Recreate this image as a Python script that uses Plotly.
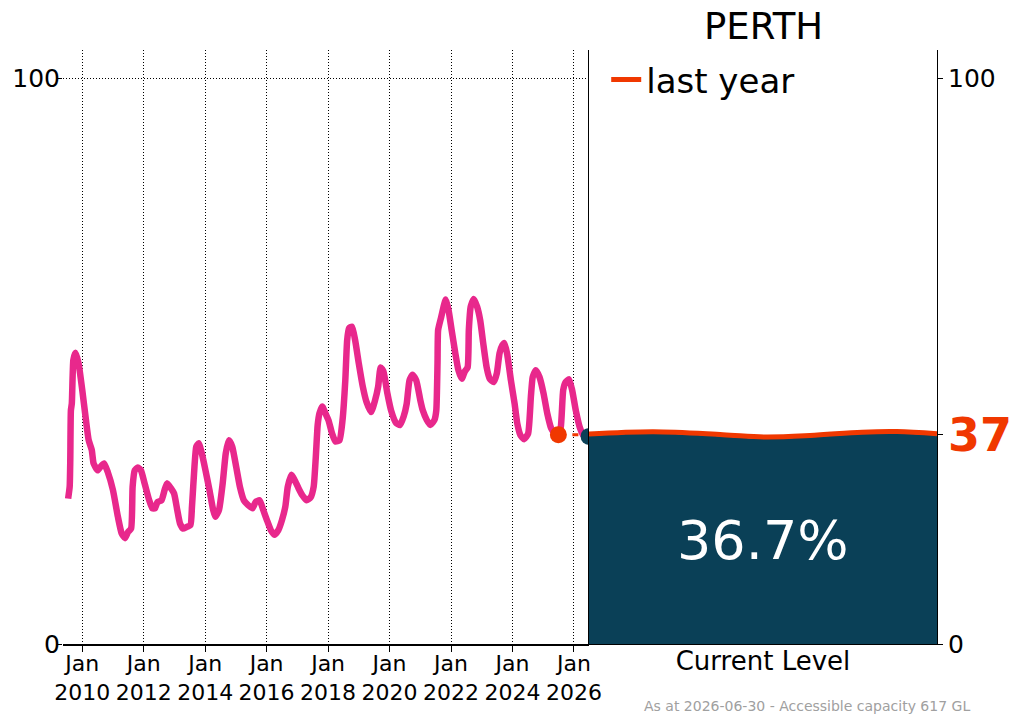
import pandas as pd
import plotly.graph_objects as go

# storage level (% of accessible capacity)
years = [
    2009.54, 2009.59, 2009.61, 2009.63, 2009.66, 2009.71, 2009.78, 2009.88, 2010.00, 2010.12,
    2010.21, 2010.31, 2010.37, 2010.50, 2010.59, 2010.71, 2010.83, 2011.00, 2011.16, 2011.28,
    2011.39, 2011.49, 2011.59, 2011.64, 2011.71, 2011.81, 2011.91, 2012.03, 2012.18, 2012.28,
    2012.37, 2012.45, 2012.58, 2012.68, 2012.76, 2012.89, 2012.99, 2013.09, 2013.18, 2013.28,
    2013.40, 2013.52, 2013.57, 2013.65, 2013.71, 2013.79, 2013.89, 2014.01, 2014.14, 2014.26,
    2014.33, 2014.45, 2014.57, 2014.67, 2014.77, 2014.88, 2015.01, 2015.13, 2015.26, 2015.39,
    2015.54, 2015.64, 2015.77, 2015.89, 2016.01, 2016.14, 2016.25, 2016.38, 2016.50, 2016.61,
    2016.69, 2016.81, 2016.91, 2017.04, 2017.16, 2017.30, 2017.43, 2017.53, 2017.60, 2017.66,
    2017.72, 2017.81, 2017.91, 2018.01, 2018.13, 2018.24, 2018.37, 2018.47, 2018.56, 2018.62,
    2018.68, 2018.78, 2018.88, 2019.00, 2019.13, 2019.25, 2019.40, 2019.53, 2019.63, 2019.71,
    2019.80, 2019.93, 2020.05, 2020.21, 2020.34, 2020.46, 2020.56, 2020.65, 2020.75, 2020.87,
    2021.00, 2021.08, 2021.21, 2021.33, 2021.46, 2021.52, 2021.56, 2021.58, 2021.68, 2021.77,
    2021.83, 2021.92, 2022.02, 2022.14, 2022.24, 2022.35, 2022.45, 2022.54, 2022.58, 2022.64,
    2022.74, 2022.85, 2022.95, 2023.05, 2023.16, 2023.26, 2023.39, 2023.49, 2023.58, 2023.67,
    2023.74, 2023.83, 2023.95, 2024.07, 2024.16, 2024.26, 2024.38, 2024.51, 2024.60, 2024.66,
    2024.76, 2024.88, 2025.01, 2025.13, 2025.26, 2025.41, 2025.48, 2025.57, 2025.65, 2025.73,
    2025.84, 2025.94, 2026.06, 2026.19, 2026.31, 2026.49,
]
levels = [
    25.7, 27.8, 32.5, 41.3, 42.5, 50.2, 51.5, 49.6, 44.9, 39.6,
    36.0, 34.3, 31.9, 30.7, 31.3, 31.9, 30.4, 27.2, 22.5, 19.6,
    18.7, 19.8, 20.4, 27.8, 30.7, 31.2, 30.7, 28.4, 25.4, 24.0,
    24.0, 25.1, 25.4, 27.2, 28.4, 27.5, 26.6, 23.7, 21.3, 20.4,
    20.7, 21.0, 24.3, 31.3, 34.9, 35.5, 33.7, 30.7, 27.2, 23.7,
    22.5, 23.7, 28.4, 33.7, 36.0, 34.9, 31.3, 27.8, 25.4, 24.6,
    24.0, 25.1, 25.4, 23.7, 21.9, 20.1, 19.3, 20.1, 21.9, 24.3,
    27.8, 29.9, 29.0, 27.5, 26.3, 25.4, 25.9, 27.8, 33.1, 38.7,
    40.8, 42.0, 40.8, 39.6, 37.2, 35.8, 36.0, 39.6, 46.6, 53.7,
    55.8, 56.1, 53.7, 49.6, 45.5, 42.8, 41.0, 43.1, 45.5, 48.9,
    48.2, 44.3, 41.3, 39.1, 38.7, 40.2, 42.5, 46.6, 47.6, 46.6,
    43.1, 41.3, 39.6, 38.7, 39.6, 41.3, 49.6, 55.5, 57.8, 59.9,
    60.9, 59.0, 55.5, 51.4, 48.4, 46.9, 48.2, 48.9, 55.5, 59.6,
    61.0, 59.6, 57.2, 53.1, 48.9, 46.9, 46.3, 47.8, 51.4, 52.8,
    53.2, 51.2, 46.6, 42.5, 38.9, 36.9, 36.2, 37.2, 43.7, 47.2,
    48.4, 47.2, 44.3, 40.8, 38.1, 36.9, 37.0, 38.3, 44.9, 46.3,
    46.8, 44.9, 41.3, 38.3, 36.9, 36.7,
]

current_date = "2026-06-30"
current_level = 36.7
last_year_date = "2025-06-30"
last_year_level = 37.0

# wavy water surface in the tank (x as fraction of tank width, offset in %)
tank_x = [0.0, 0.185, 0.385, 0.505, 0.635, 0.785, 0.885, 1.0]
wave = [0.1, 0.5, 0.0, -0.4, -0.15, 0.45, 0.55, 0.15]

tick_years = [2010, 2012, 2014, 2016, 2018, 2020, 2022, 2024, 2026]

PINK = "#e8288c"
ORANGE = "#f03800"
TEAL = "#0a4057"
FONT = "DejaVu Sans"


def to_date(y):
    yr = int(y)
    return pd.Timestamp(year=yr, month=1, day=1) + pd.Timedelta(days=(y - yr) * 365.25)


dates = [to_date(y) for y in years]

fig = go.Figure()

fig.add_trace(go.Scatter(
    x=dates, y=levels, mode="lines",
    line=dict(color=PINK, width=6.5, shape="spline", smoothing=0.5),
    showlegend=False, xaxis="x", yaxis="y",
))
fig.add_trace(go.Scatter(
    x=[last_year_date, current_date], y=[last_year_level, last_year_level], mode="lines",
    line=dict(color=ORANGE, width=3, dash="6px,8px"), showlegend=False, xaxis="x", yaxis="y",
))
fig.add_trace(go.Scatter(
    x=[last_year_date], y=[last_year_level], mode="markers",
    marker=dict(color=ORANGE, size=17), showlegend=False, xaxis="x", yaxis="y",
))
fig.add_trace(go.Scatter(
    x=[current_date], y=[current_level], mode="markers",
    marker=dict(color=TEAL, size=17), showlegend=False, xaxis="x", yaxis="y",
))

# tank
fig.add_trace(go.Scatter(
    x=tank_x, y=[current_level + w for w in wave], mode="lines",
    line=dict(color=TEAL, width=0, shape="spline"), fill="tozeroy", fillcolor=TEAL,
    showlegend=False, xaxis="x2", yaxis="y2",
))
fig.add_trace(go.Scatter(
    x=tank_x, y=[last_year_level + w for w in wave], mode="lines",
    line=dict(color=ORANGE, width=5, shape="spline"), name="last year",
    xaxis="x2", yaxis="y2",
))

x_left = 63 / 1024
x_mid = 589 / 1024
x_right = 937 / 1024
y_dom = [(725 - 644) / 725, (725 - 50) / 725]
grid_dash = "1px,2px"

fig.update_layout(
    template="none",
    width=1024, height=725,
    margin=dict(l=0, r=0, t=0, b=0, pad=0),
    paper_bgcolor="white", plot_bgcolor="white",
    font=dict(family=FONT, color="black"),
    xaxis=dict(
        domain=[x_left, x_mid], range=[to_date(2009.373), to_date(2026.49)],
        tickvals=[f"{y}-01-01" for y in tick_years],
        ticktext=[f"Jan<br>{y}" for y in tick_years],
        tickfont=dict(size=22), ticks="outside", ticklen=6, tickcolor="black",
        ticklabelstandoff=-7,
        showline=True, linecolor="black", linewidth=1.5, automargin=False,
        showgrid=True, gridcolor="black", griddash=grid_dash, gridwidth=1, zeroline=False,
    ),
    yaxis=dict(
        domain=y_dom, range=[0, 105], tickvals=[0, 100], tickfont=dict(size=25),
        ticks="outside", ticklen=5, tickcolor="black", showline=False, automargin=False,
        ticklabelstandoff=-8,
        showgrid=True, gridcolor="black", griddash=grid_dash, gridwidth=1, zeroline=False,
    ),
    xaxis2=dict(
        domain=[x_mid, x_right], range=[0, 1], anchor="y2",
        tickvals=[0.5], ticktext=["Current Level"], tickfont=dict(size=26), ticks="",
        ticklabelstandoff=-6,
        showline=True, linecolor="black", linewidth=1, showgrid=False, zeroline=False,
        automargin=False,
    ),
    yaxis2=dict(
        domain=y_dom, range=[0, 105], anchor="x2", side="right",
        tickvals=[0, last_year_level, 100], ticktext=["0", "", "100"], tickfont=dict(size=25),
        ticks="outside", ticklen=5, tickcolor="black",
        showline=True, mirror=True, linecolor="black", linewidth=1,
        showgrid=False, zeroline=False, automargin=False,
    ),
    legend=dict(
        x=0.592, y=1 - 80 / 725, xanchor="left", yanchor="middle",
        font=dict(size=34), bgcolor="rgba(0,0,0,0)", borderwidth=0,
    ),
    annotations=[
        dict(text="PERTH", xref="paper", yref="paper", x=(x_mid + x_right) / 2, y=1 - 27 / 725,
             showarrow=False, font=dict(size=37), xanchor="center", yanchor="middle"),
        dict(text=f"{current_level}%", xref="x2", yref="y2", x=0.5, y=current_level / 2,
             showarrow=False, font=dict(size=54, color="white")),
        dict(text=f"<b>{round(last_year_level)}</b>", xref="paper", yref="y2", x=946 / 1024,
             y=last_year_level, showarrow=False, xanchor="left", yanchor="middle",
             font=dict(size=46, color=ORANGE)),
        dict(text=f"As at {current_date} - Accessible capacity 617 GL", xref="paper", yref="paper",
             x=972 / 1024, y=1 - 706 / 725, showarrow=False, xanchor="right", yanchor="middle",
             font=dict(size=14, color="#a0a0a0")),
    ],
)

fig.write_html(
    "out.html",
    config={"displayModeBar": False},
    post_script="document.body.style.margin='0px';",
)
